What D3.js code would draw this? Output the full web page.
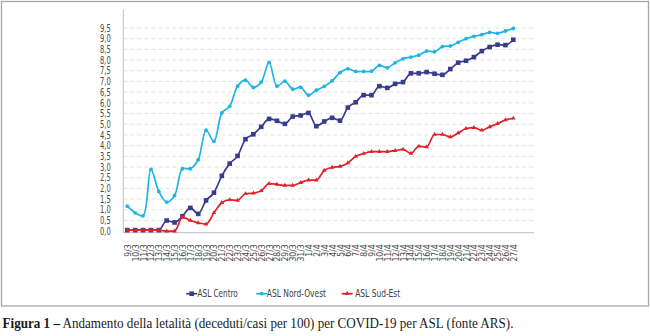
<!DOCTYPE html>
<html>
<head>
<meta charset="utf-8">
<script src="https://cdn.jsdelivr.net/npm/d3@7"></script>
<style>
  html, body { margin: 0; padding: 0; background: #fff; }
  svg { display: block; }
  .sans { font-family: "Liberation Sans Narrow", "Arial Narrow", "DejaVu Sans Condensed", "Liberation Sans", sans-serif; }
</style>
</head>
<body>
<svg id="chart" width="650" height="336"></svg>
<script>
// Daily case-fatality rate (deaths per 100 cases) by ASL, 9 March – 27 April
const dates = [
  "9/3","10/3","11/3","12/3","13/3","14/3","15/3","16/3","17/3","18/3","19/3","20/3",
  "21/3","22/3","23/3","24/3","25/3","26/3","27/3","28/3","29/3","30/3","31/3",
  "1/4","2/4","3/4","4/4","5/4","6/4","7/4","8/4","9/4","10/4","11/4","12/4","13/4",
  "14/4","15/4","16/4","17/4","18/4","19/4","20/4","21/4","22/4","23/4","24/4","25/4",
  "26/4","27/4"
];

const centro = [
  0.05, 0.05, 0.05, 0.05, 0.05, 0.50, 0.41, 0.70, 1.09, 0.81, 1.44, 1.80,
  2.59, 3.16, 3.52, 4.30, 4.53, 4.88, 5.25, 5.16, 5.02, 5.36, 5.41,
  5.53, 4.91, 5.13, 5.30, 5.17, 5.78, 6.03, 6.36, 6.36, 6.78, 6.70, 6.89, 6.97,
  7.38, 7.38, 7.44, 7.36, 7.31, 7.58, 7.88, 7.97, 8.14, 8.42, 8.61, 8.72,
  8.70, 8.95
];

const nordOvest = [
  1.17, 0.86, 0.72, 2.89, 1.86, 1.36, 1.67, 2.92, 2.92, 3.34, 4.72, 4.20,
  5.53, 5.84, 6.78, 7.06, 6.72, 6.97, 7.89, 6.78, 7.02, 6.64, 6.73,
  6.36, 6.59, 6.77, 7.03, 7.41, 7.59, 7.47, 7.47, 7.48, 7.75, 7.64, 7.87, 8.06,
  8.14, 8.23, 8.42, 8.39, 8.63, 8.66, 8.83, 9.00, 9.11, 9.19, 9.30, 9.25,
  9.36, 9.48
];

const sudEst = [
  0.05, 0.05, 0.05, 0.05, 0.05, 0.00, 0.00, 0.66, 0.50, 0.39, 0.33, 0.86,
  1.33, 1.47, 1.44, 1.75, 1.78, 1.89, 2.22, 2.19, 2.14, 2.14, 2.27,
  2.39, 2.39, 2.84, 2.98, 3.03, 3.19, 3.50, 3.63, 3.72, 3.72, 3.72, 3.77, 3.83,
  3.64, 3.97, 3.94, 4.52, 4.52, 4.41, 4.59, 4.80, 4.84, 4.72, 4.88, 5.03,
  5.20, 5.28
];

const yTicks = [0, 0.5, 1, 1.5, 2, 2.5, 3, 3.5, 4, 4.5, 5, 5.5, 6, 6.5, 7, 7.5, 8, 8.5, 9, 9.5];

const seriesNames = ["ASL Centro", "ASL Nord-Ovest", "ASL Sud-Est"];
const seriesValues = [centro, nordOvest, sudEst];

const caption = {
  bold: "Figura 1 \u2013",
  rest: " Andamento della letalità (deceduti/casi per 100) per COVID-19 per ASL (fonte ARS)."
};

// ---- drawing ----
const colors = ["#393b8e", "#20b4e4", "#e3202b"];
const svg = d3.select("#chart");

// outer frame
svg.append("rect")
  .attr("x", 1.5).attr("y", 1.5)
  .attr("width", 647).attr("height", 304.5)
  .attr("fill", "none").attr("stroke", "#a6a6a6").attr("stroke-width", 1.3);

const x = d3.scalePoint().domain(dates).range([127.3, 513.3]);
const y = d3.scaleLinear().domain([0, 9.5]).range([231.2, 28]);
const plotLeft = 123.3, plotRight = 534, plotTop = 9.5;

// squeeze a text element horizontally to a given width (condensed look)
function fitWidth(sel, target) {
  sel.each(function () {
    const w = this.getComputedTextLength();
    if (w > 0) d3.select(this).attr("textLength", target).attr("lengthAdjust", "spacingAndGlyphs");
  });
}

// dashed gridlines
svg.append("g")
  .selectAll("line")
  .data(yTicks.filter(v => v > 0))
  .join("line")
  .attr("x1", plotLeft).attr("x2", plotRight)
  .attr("y1", d => y(d)).attr("y2", d => y(d))
  .attr("stroke", "#dcdcdc").attr("stroke-width", 0.8)
  .attr("stroke-dasharray", "4,3");

// vertical axis line
svg.append("line")
  .attr("x1", plotLeft).attr("x2", plotLeft)
  .attr("y1", plotTop).attr("y2", y(0) + 1.5)
  .attr("stroke", "#bdbdbd").attr("stroke-width", 1);

// horizontal axis line
svg.append("line")
  .attr("x1", plotLeft).attr("x2", plotRight)
  .attr("y1", y(0) + 1.5).attr("y2", y(0) + 1.5)
  .attr("stroke", "#bdbdbd").attr("stroke-width", 1);

// y axis labels
const yAxis = svg.append("g")
  .attr("class", "sans")
  .attr("transform", `translate(${plotLeft},0)`)
  .call(d3.axisLeft(y).tickValues(yTicks).tickSize(0).tickPadding(12.6)
    .tickFormat(d => d3.format(".1f")(d).replace(".", ",")));
yAxis.select(".domain").remove();
yAxis.selectAll("text")
  .attr("font-size", 9.8).attr("fill", "#4a4a4a").attr("font-family", null);
fitWidth(yAxis.selectAll("text"), 10.8);

// x axis labels, rotated
const xAxis = svg.append("g")
  .attr("class", "sans")
  .attr("transform", `translate(0,${y(0) + 1.5})`)
  .call(d3.axisBottom(x).tickSize(0));
xAxis.select(".domain").remove();
xAxis.selectAll("text")
  .attr("font-family", null)
  .attr("font-size", 8.6).attr("fill", "#4a4a4a")
  .attr("transform", "rotate(-90)")
  .attr("text-anchor", "end")
  .attr("x", -11.5).attr("y", 0).attr("dy", "0.35em");

// marker shapes per series
function drawMarker(sel, k) {
  if (k === 0) {
    sel.append("rect").attr("x", -2.3).attr("y", -2.3).attr("width", 4.6).attr("height", 4.6)
      .attr("fill", colors[0]);
  } else if (k === 1) {
    sel.append("circle").attr("r", 1.9).attr("fill", colors[1]);
  } else {
    sel.append("path").attr("d", d3.symbol(d3.symbolTriangle, 9)).attr("fill", colors[2]);
  }
}

// series lines + markers
const curves = [d3.curveMonotoneX, d3.curveCatmullRom.alpha(0.5), d3.curveMonotoneX];
seriesValues.forEach((vals, k) => {
  const pts = dates.map((d, i) => [x(d), y(vals[i])]);
  svg.append("path")
    .attr("d", d3.line().curve(curves[k])(pts))
    .attr("fill", "none").attr("stroke", colors[k])
    .attr("stroke-width", 1.7).attr("stroke-linejoin", "round");
  const g = svg.append("g");
  pts.forEach(p => {
    const m = g.append("g").attr("transform", `translate(${p[0]},${p[1]})`);
    drawMarker(m, k);
  });
});

// legend
const legendY = 293.7;
const legendPos = [
  { m: 191.7, t: 197.6, w: 40.2 },
  { m: 261.7, t: 266.8, w: 59.2 },
  { m: 347.2, t: 355.2, w: 45.0 }
];
seriesNames.forEach((name, k) => {
  const g = svg.append("g");
  g.append("line")
    .attr("x1", legendPos[k].m - 5.5).attr("x2", legendPos[k].m + 5.5)
    .attr("y1", legendY).attr("y2", legendY)
    .attr("stroke", colors[k]).attr("stroke-width", 1.7);
  drawMarker(g.append("g").attr("transform", `translate(${legendPos[k].m},${legendY})`), k);
  const t = g.append("text")
    .attr("class", "sans")
    .attr("x", legendPos[k].t).attr("y", legendY).attr("dy", "0.35em")
    .attr("font-size", 10.6).attr("fill", "#404040")
    .text(name);
  fitWidth(t, legendPos[k].w);
});

// caption below the frame, fitted to its line width
const cap = svg.append("text")
  .attr("x", 0).attr("y", 0)
  .attr("font-family", "'Liberation Serif', 'DejaVu Serif', serif")
  .attr("font-size", 13.6).attr("fill", "#1a1a1a");
cap.append("tspan").attr("font-weight", "bold").text(caption.bold);
cap.append("tspan").text(caption.rest);
const capW = cap.node().getComputedTextLength();
const capTarget = 511;
cap.attr("transform", `translate(2.5,327.5) scale(${capTarget / capW},1)`);
</script>
</body>
</html>
